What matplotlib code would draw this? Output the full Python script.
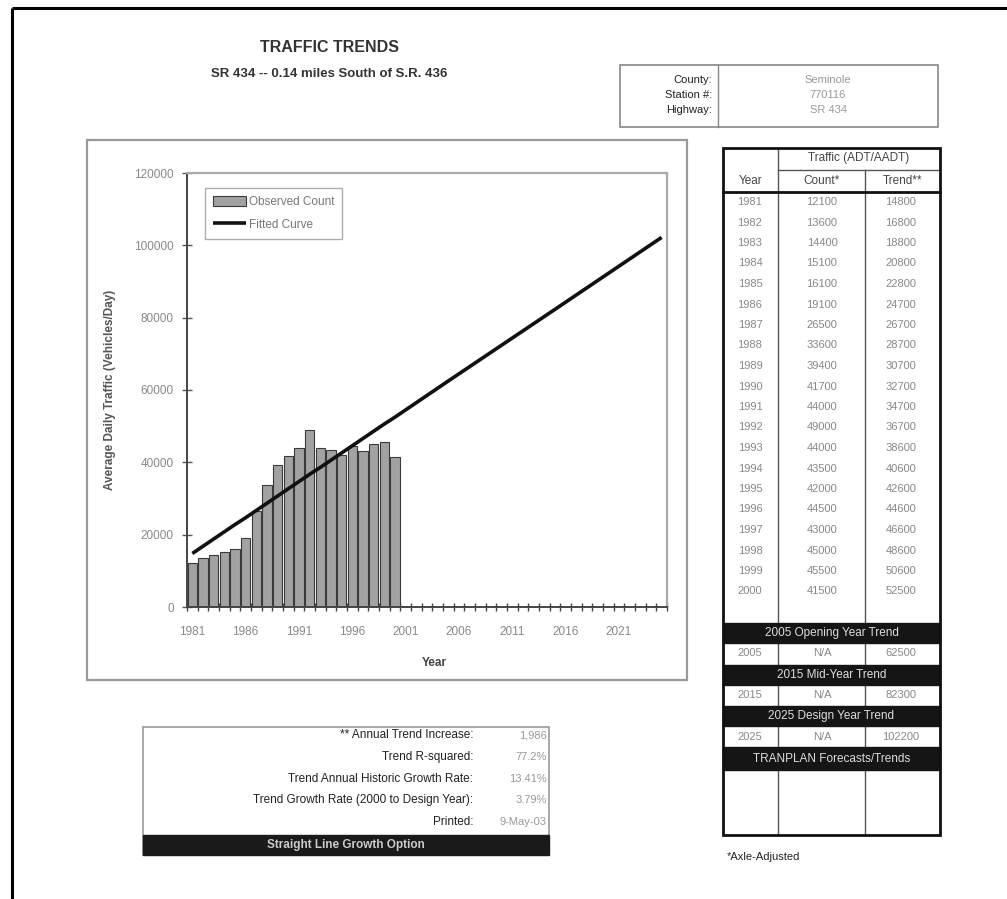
import matplotlib
matplotlib.use('Agg')
import matplotlib.pyplot as plt
from matplotlib.patches import Rectangle

plt.rcParams['font.family'] = ['Liberation Sans', 'DejaVu Sans']

# ---------------- data ----------------
count_years = list(range(1981, 2001))
counts = [12100, 13600, 14400, 15100, 16100, 19100, 26500, 33600, 39400, 41700,
          44000, 49000, 44000, 43500, 42000, 44500, 43000, 45000, 45500, 41500]
trend = [14800, 16800, 18800, 20800, 22800, 24700, 26700, 28700, 30700, 32700,
         34700, 36700, 38600, 40600, 42600, 44600, 46600, 48600, 50600, 52500]
axis_years = list(range(1981, 2026))
forecast_years = [2005, 2015, 2025]
forecast_trend = [62500, 82300, 102200]
forecast_titles = ['2005 Opening Year Trend', '2015 Mid-Year Trend', '2025 Design Year Trend']
xtick_years = [1981, 1986, 1991, 1996, 2001, 2006, 2011, 2016, 2021]
yticks = [0, 20000, 40000, 60000, 80000, 100000, 120000]
info_labels = ['County:', 'Station #:', 'Highway:']
info_values = ['Seminole', '770116', 'SR 434']
stat_labels = ['** Annual Trend Increase:', 'Trend R-squared:',
               'Trend Annual Historic Growth Rate:',
               'Trend Growth Rate (2000 to Design Year):', 'Printed:']
stat_values = ['1,986', '77.2%', '13.41%', '3.79%', '9-May-03']

W, H = 1007, 899
fig = plt.figure(figsize=(W / 100, H / 100), dpi=100)
fig.patch.set_facecolor('white')

# overlay axes in pixel coordinates
ov = fig.add_axes([0, 0, 1, 1], zorder=0)
ov.set_xlim(0, W)
ov.set_ylim(H, 0)
ov.axis('off')

# page border
ov.plot([12, 12], [8, H], color='black', lw=2.2, solid_capstyle='butt')
ov.plot([12, W], [8, 8], color='black', lw=2.2, solid_capstyle='butt')

# titles
ov.text(329, 48, 'TRAFFIC TRENDS', ha='center', va='center', fontsize=11.5,
        fontweight='bold', color='#333333')
ov.text(329, 74, 'SR 434 -- 0.14 miles South of S.R. 436', ha='center', va='center',
        fontsize=9.5, fontweight='bold', color='#333333')

# info box
ov.add_patch(Rectangle((620, 65), 318, 62, fill=False, ec='#888888', lw=1.2))
ov.plot([718, 718], [65, 127], color='#888888', lw=1)
for i, (lab, val) in enumerate(zip(info_labels, info_values)):
    y = 80 + i * 15
    ov.text(712, y, lab, ha='right', va='center', fontsize=8, color='#222222')
    ov.text(828, y, val, ha='center', va='center', fontsize=8, color='#999999')

# chart frame
ov.add_patch(Rectangle((87, 140), 600, 540, fill=False, ec='#999999', lw=1.6))

# ---------------- chart ----------------
pl, pr, pt, pb = 187, 667, 173, 607
ax = fig.add_axes([pl / W, (H - pb) / H, (pr - pl) / W, (pb - pt) / H], zorder=2)
ax.set_facecolor('white')
idx = {y: i for i, y in enumerate(axis_years)}
bx = [idx[y] for y in count_years]
bars = ax.bar(bx, counts, width=0.88, color='#a2a2a2', edgecolor='#3a3a3a', lw=0.8,
              label='Observed Count', zorder=2)
lx = [idx[y] for y in count_years + forecast_years]
line, = ax.plot(lx, trend + forecast_trend, color='#111111', lw=2.6, label='Fitted Curve',
                zorder=3, solid_capstyle='butt')
ax.set_xlim(-0.5, len(axis_years) - 0.5)
ax.set_ylim(0, 120000)
ax.set_yticks(yticks)
ax.set_yticklabels([str(v) for v in yticks], fontsize=8.5, color='#888888')
ax.set_xticks([i - 0.5 for i in range(len(axis_years) + 1)])
ax.set_xticklabels([])
ax.set_xticks([idx[y] for y in xtick_years], minor=True)
ax.set_xticklabels([str(y) for y in xtick_years], minor=True, fontsize=8.5, color='#888888')
ax.tick_params(axis='x', which='major', direction='inout', length=6, width=1, color='#444444')
ax.tick_params(axis='x', which='minor', length=0, pad=14)
ax.tick_params(axis='y', direction='inout', length=7, width=1, color='#555555', pad=6)
for s in ['left', 'bottom']:
    ax.spines[s].set_color('#444444')
    ax.spines[s].set_linewidth(1.4)
for s in ['top', 'right']:
    ax.spines[s].set_color('#aaaaaa')
    ax.spines[s].set_linewidth(1.6)
ax.set_ylabel('Average Daily Traffic (Vehicles/Day)', fontsize=8.5, fontweight='bold',
              color='#555555')
ax.yaxis.set_label_coords((116 - pl) / (pr - pl), 0.5)
ax.set_xlabel('Year', fontsize=8.5, fontweight='bold', color='#444444')
ax.xaxis.set_label_coords((434 - pl) / (pr - pl), (pb - 657) / (pb - pt))
leg = ax.legend([bars, line], ['Observed Count', 'Fitted Curve'], loc='upper left',
                bbox_to_anchor=((205 - pl) / (pr - pl), (pb - 188) / (pb - pt)),
                fontsize=8.5, frameon=True, fancybox=False, borderpad=0.7,
                handlelength=2.8, handleheight=0.9, handletextpad=0.2, labelspacing=0.9,
                borderaxespad=0)
leg.get_frame().set_edgecolor('#999999')
leg.get_frame().set_linewidth(1)
for t in leg.get_texts():
    t.set_color('#777777')

# ---------------- right table ----------------
tl, tr_, tt, tb = 723, 940, 148, 835
c1, c2 = 778, 865
ov.plot([c1, c1], [tt, tb], color='#555555', lw=1)
ov.plot([c2, c2], [170, tb], color='#555555', lw=1)
ov.plot([c1, tr_], [170, 170], color='#555555', lw=1)
ov.plot([tl, tr_], [192, 192], color='#111111', lw=2)
ov.text((c1 + tr_) / 2, 158, 'Traffic (ADT/AADT)', ha='center', va='center', fontsize=8.5,
        color='#444444')
ov.text((tl + c1) / 2, 181, 'Year', ha='center', va='center', fontsize=8.5, color='#444444')
ov.text((c1 + c2) / 2, 181, 'Count*', ha='center', va='center', fontsize=8.5, color='#444444')
ov.text((c2 + tr_) / 2, 181, 'Trend**', ha='center', va='center', fontsize=8.5, color='#444444')
for i, (y, c, t) in enumerate(zip(count_years, counts, trend)):
    yy = 202 + i * 20.5
    ov.text(750, yy, str(y), ha='center', va='center', fontsize=8, color='#888888')
    ov.text(822, yy, str(c), ha='center', va='center', fontsize=8, color='#888888')
    ov.text(901, yy, str(t), ha='center', va='center', fontsize=8, color='#888888')

band_tops = [623, 665, 706]
for bt, title, fy, ft in zip(band_tops, forecast_titles, forecast_years, forecast_trend):
    ov.add_patch(Rectangle((tl, bt), tr_ - tl, 20, color='#151515', zorder=3))
    ov.text((tl + tr_) / 2, bt + 10, title, ha='center', va='center', fontsize=8.5,
            color='#dddddd', zorder=4)
    ry = bt + 30.5
    ov.text(750, ry, str(fy), ha='center', va='center', fontsize=8, color='#888888')
    ov.text(822, ry, 'N/A', ha='center', va='center', fontsize=8, color='#888888')
    ov.text(901, ry, str(ft), ha='center', va='center', fontsize=8, color='#888888')
ov.add_patch(Rectangle((tl, 747), tr_ - tl, 23, color='#151515', zorder=3))
ov.text((tl + tr_) / 2, 758.5, 'TRANPLAN Forecasts/Trends', ha='center', va='center',
        fontsize=8.5, color='#dddddd', zorder=4)
ov.add_patch(Rectangle((tl, tt), tr_ - tl, tb - tt, fill=False, ec='#111111', lw=2, zorder=5))
ov.text(727, 857, '*Axle-Adjusted', ha='left', va='center', fontsize=8, color='#222222')

# ---------------- bottom-left stats box ----------------
ov.add_patch(Rectangle((143, 727), 406, 128, fill=False, ec='#999999', lw=1.2))
for i, (lab, val) in enumerate(zip(stat_labels, stat_values)):
    yy = 735 + i * 21.8
    ov.text(473, yy, lab, ha='right', va='center', fontsize=8.5, color='#222222')
    ov.text(547, yy, val, ha='right', va='center', fontsize=8, color='#999999')
ov.add_patch(Rectangle((143, 835), 406, 20, color='#1a1a1a', zorder=3))
ov.text(346, 845, 'Straight Line Growth Option', ha='center', va='center', fontsize=8.5,
        fontweight='bold', color='#cccccc', zorder=4)

fig.savefig('out.png', dpi=100, facecolor='white')
